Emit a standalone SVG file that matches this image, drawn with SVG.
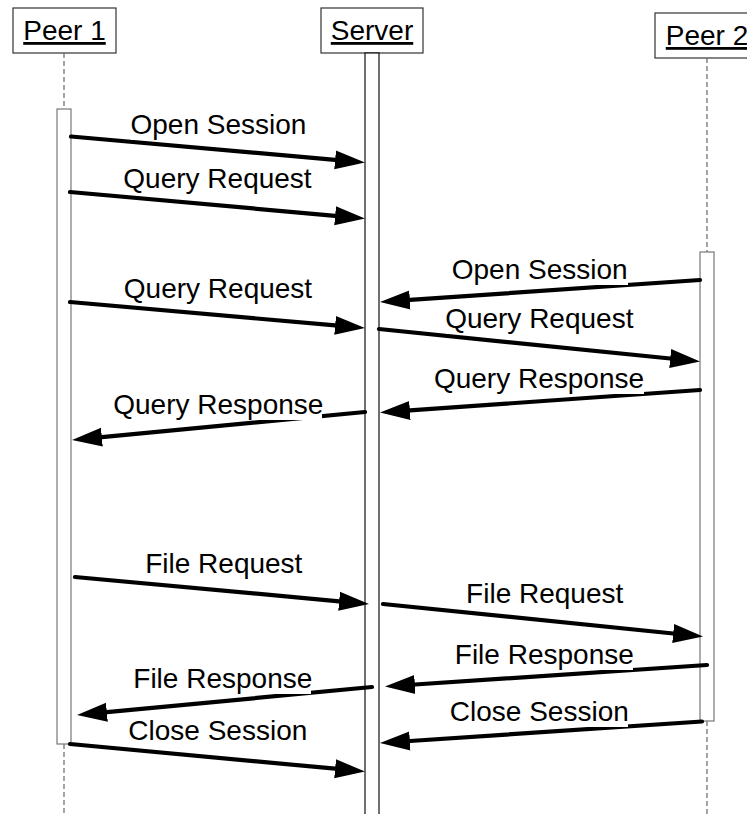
<svg xmlns="http://www.w3.org/2000/svg" width="747" height="814" viewBox="0 0 747 814">
<style>
.hdr{fill:#fff;stroke:#333;stroke-width:1.2}
.act{fill:#fff;stroke:#777;stroke-width:1.2}
.sact{fill:#fff;stroke:#111;stroke-width:1.2}
.life{stroke:#666;stroke-width:1.2;stroke-dasharray:5 3;fill:none}
.t{font-family:"Liberation Sans",Arial,sans-serif;font-size:28px;fill:#000}
.h{font-family:"Liberation Sans",Arial,sans-serif;font-size:28px;fill:#000;text-decoration:underline;text-anchor:middle}
.m{stroke:#000;stroke-width:4.2;stroke-linecap:round;fill:none;marker-end:url(#ah)}
.bg{fill:#fff}
</style>
<defs>
<marker id="ah" markerUnits="userSpaceOnUse" markerWidth="32" markerHeight="22" viewBox="0 -11 32 22" refX="0" refY="0" orient="auto">
<path d="M0,-9.5 L30,0 L0,9.5 Z" fill="#000"/>
</marker>
</defs>
<rect width="747" height="814" fill="#fff"/>
<g id="peer1">
<rect class="hdr" x="13" y="8" width="103" height="45"/>
<text class="h" x="64.5" y="40">Peer 1</text>
<line class="life" x1="64" y1="53" x2="64" y2="109"/>
<line class="life" x1="64" y1="744" x2="64" y2="814"/>
<rect class="act" x="57" y="109" width="14" height="635"/>
</g>
<g id="server">
<rect class="hdr" x="321" y="8" width="102" height="45"/>
<text class="h" x="372" y="40">Server</text>
<rect class="sact" x="365" y="53" width="14" height="770"/>
</g>
<g id="peer2">
<rect class="hdr" x="655" y="13" width="110" height="45"/>
<text class="h" x="707" y="45">Peer 2</text>
<line class="life" x1="707" y1="58" x2="707" y2="252"/>
<line class="life" x1="707" y1="721" x2="707" y2="814"/>
<rect class="act" x="700" y="252" width="14" height="469"/>
</g>
<g id="connectors">
<line class="m" x1="71" y1="136.5" x2="335.1" y2="159.9"/>
<line class="m" x1="70" y1="192" x2="335.1" y2="215.8"/>
<line class="m" x1="70" y1="302" x2="335.1" y2="325.4"/>
<line class="m" x1="700" y1="280" x2="409.9" y2="299.9"/>
<line class="m" x1="379" y1="329" x2="670.2" y2="358.5"/>
<line class="m" x1="700" y1="390" x2="409.9" y2="410.4"/>
<line class="m" x1="365" y1="412" x2="101.9" y2="437.1"/>
<line class="m" x1="75" y1="577" x2="339.1" y2="601.3"/>
<line class="m" x1="383" y1="604" x2="673.2" y2="633.5"/>
<line class="m" x1="707" y1="665" x2="414.9" y2="684.5"/>
<line class="m" x1="372" y1="687" x2="106.9" y2="712.2"/>
<line class="m" x1="702" y1="721.5" x2="409.9" y2="741"/>
<line class="m" x1="70" y1="744" x2="335.1" y2="768.7"/>
</g>
<g id="labels">
<rect class="bg" x="131" y="110" width="175" height="30"/><text class="t" x="218.4" y="134" text-anchor="middle">Open Session</text>
<rect class="bg" x="125" y="164" width="186" height="30"/><text class="t" x="217.5" y="188" text-anchor="middle">Query Request</text>
<rect class="bg" x="125" y="274" width="187" height="30"/><text class="t" x="218" y="298" text-anchor="middle">Query Request</text>
<rect class="bg" x="452" y="255" width="176" height="30"/><text class="t" x="539.7" y="279" text-anchor="middle">Open Session</text>
<rect class="bg" x="446" y="304" width="187" height="30"/><text class="t" x="539.3" y="328" text-anchor="middle">Query Request</text>
<rect class="bg" x="435" y="364" width="209" height="30"/><text class="t" x="539" y="388" text-anchor="middle">Query Response</text>
<rect class="bg" x="115" y="390" width="207" height="30"/><text class="t" x="218.3" y="414" text-anchor="middle">Query Response</text>
<rect class="bg" x="146" y="549" width="156" height="30"/><text class="t" x="223.8" y="573" text-anchor="middle">File Request</text>
<rect class="bg" x="466" y="579" width="157" height="30"/><text class="t" x="544.7" y="603" text-anchor="middle">File Request</text>
<rect class="bg" x="456" y="640" width="177" height="30"/><text class="t" x="544.3" y="664" text-anchor="middle">File Response</text>
<rect class="bg" x="135" y="664" width="176" height="30"/><text class="t" x="222.8" y="688" text-anchor="middle">File Response</text>
<rect class="bg" x="450" y="697" width="178" height="30"/><text class="t" x="539.3" y="721" text-anchor="middle">Close Session</text>
<rect class="bg" x="129" y="716" width="178" height="30"/><text class="t" x="217.8" y="740" text-anchor="middle">Close Session</text>
</g>
</svg>
